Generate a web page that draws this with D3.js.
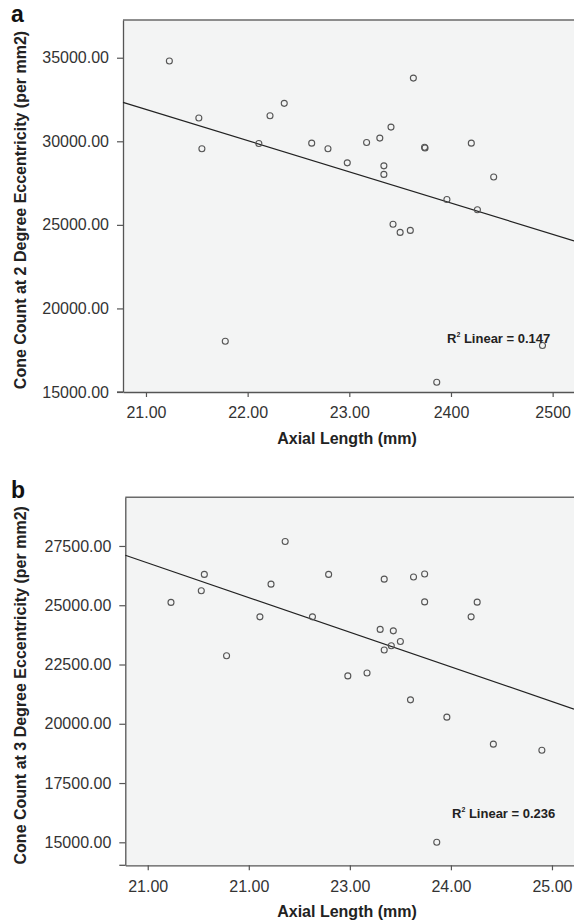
<!DOCTYPE html>
<html>
<head>
<meta charset="utf-8">
<script src="https://d3js.org/d3.v7.min.js"></script>
<style>
  body { margin: 0; background: #fff; }
  svg text { font-family: "Liberation Sans", Arial, sans-serif; }
</style>
</head>
<body>
<svg id="chart" width="574" height="922"></svg>
<script>
// panel a: 2 degree eccentricity
const axialA = [21.23, 21.52, 21.55, 21.78, 22.11, 22.22, 22.36, 22.63, 22.79, 22.98, 23.17, 23.30, 23.34, 23.34,
  23.41, 23.43, 23.50, 23.60, 23.63, 23.74, 23.745, 23.86, 23.96, 24.20, 24.26, 24.42, 24.90];
const coneA = [34800, 31390, 29550, 18040, 29870, 31530, 32270, 29890, 29550, 28710, 29930, 30190, 28530, 28020,
  30850, 25040, 24550, 24670, 33780, 29640, 29600, 15580, 26520, 29890, 25900, 27860, 17780];
const fitA = [[20.774, 32330], [25.21, 24040]];
const xTicksA = ["21.00", "22.00", "23.00", "2400", "2500"];
const yTicksA = [15000, 20000, 25000, 30000, 35000];

// panel b: 3 degree eccentricity
const axialB = [21.23, 21.53, 21.56, 21.78, 22.11, 22.22, 22.36, 22.63, 22.79, 22.98, 23.17, 23.30, 23.34, 23.34,
  23.41, 23.43, 23.50, 23.60, 23.63, 23.74, 23.74, 23.86, 23.96, 24.20, 24.26, 24.42, 24.90];
const coneB = [25120, 25610, 26300, 22870, 24510, 25890, 27690, 24510, 26300, 22020, 22140, 23980, 26100, 23110,
  23290, 23920, 23470, 21010, 26190, 26320, 25140, 15000, 20280, 24510, 25130, 19140, 18880];
const fitB = [[20.778, 27110], [25.218, 20620]];
const xTicksB = ["21.00", "21.00", "23.00", "24.00", "25.00"];
const yTicksB = [15000, 17500, 20000, 22500, 25000, 27500];

const xTickValues = [21, 22, 23, 24, 25];

let svg = d3.select("#chart");

let panels = [
  { label: "a", xs: axialA, ys: coneA, fit: fitA, xLabels: xTicksA, yTicks: yTicksA,
    xDom: [20.774, 25.21], yDom: [15000, 37257], left: 123, top: 20, bottom: 392,
    yTitle: "Cone Count at 2 Degree Eccentricity (per mm2)", r2: "0.147",
    labelY: 22, r2x: 447, r2y: 343, xTitleY: 444 },
  { label: "b", xs: axialB, ys: coneB, fit: fitB, xLabels: xTicksB, yTicks: yTicksB,
    xDom: [20.778, 25.218], yDom: [14030, 29553], left: 125.3, top: 497.3, bottom: 865.3,
    yTitle: "Cone Count at 3 Degree Eccentricity (per mm2)", r2: "0.236",
    labelY: 498, r2x: 452, r2y: 818, xTitleY: 917 }
];

panels.forEach(function(p) {
  let right = 574;
  let x = d3.scaleLinear().domain(p.xDom).range([p.left, right]);
  let y = d3.scaleLinear().domain(p.yDom).range([p.bottom, p.top]);
  let g = svg.append("g");

  // plot background + frame
  g.append("rect")
    .attr("x", p.left).attr("y", p.top)
    .attr("width", right - p.left).attr("height", p.bottom - p.top)
    .attr("fill", "#f3f4f4")
    .attr("stroke", "none");
  g.append("line")
    .attr("x1", p.left).attr("x2", right).attr("y1", p.top).attr("y2", p.top)
    .attr("stroke", "#6a6a6a").attr("stroke-width", 1.5);

  // y axis
  let yAxis = g.append("g")
    .attr("transform", "translate(" + p.left + ",0)")
    .call(d3.axisLeft(y).tickValues(p.yTicks).tickFormat(d3.format(".2f")).tickSize(6).tickPadding(8).tickSizeOuter(0));
  // x axis
  let xAxis = g.append("g")
    .attr("transform", "translate(0," + p.bottom + ")")
    .call(d3.axisBottom(x).tickValues(xTickValues).tickFormat((d, i) => p.xLabels[i]).tickSize(5).tickPadding(10).tickSizeOuter(0));

  [yAxis, xAxis].forEach(function(ax) {
    ax.select(".domain").attr("stroke", "#555").attr("stroke-width", 1.3);
    ax.selectAll(".tick line").attr("stroke", "#555").attr("stroke-width", 1.2);
    ax.selectAll(".tick text")
      .attr("fill", "#333")
      .style("font-size", "16px");
  });
  // bottom line reaches out to the lowest y tick
  g.append("line")
    .attr("x1", p.left - 6).attr("x2", p.left).attr("y1", p.bottom).attr("y2", p.bottom)
    .attr("stroke", "#555").attr("stroke-width", 1.3);

  // fit line
  g.append("line")
    .attr("x1", x(p.fit[0][0])).attr("y1", y(p.fit[0][1]))
    .attr("x2", x(p.fit[1][0])).attr("y2", y(p.fit[1][1]))
    .attr("stroke", "#222").attr("stroke-width", 1.2);

  // points
  g.selectAll("circle.pt")
    .data(d3.zip(p.xs, p.ys))
    .enter()
    .append("circle")
    .attr("class", "pt")
    .attr("cx", d => x(d[0]))
    .attr("cy", d => y(d[1]))
    .attr("r", 3)
    .attr("fill", "none")
    .attr("stroke", "#555")
    .attr("stroke-width", 1.1);

  // R2 annotation
  let r2 = g.append("text")
    .attr("x", p.r2x).attr("y", p.r2y)
    .attr("fill", "#222")
    .style("font-size", "13px")
    .style("font-weight", "bold");
  r2.append("tspan").text("R");
  r2.append("tspan").attr("dy", -6).style("font-size", "7px").text("2");
  r2.append("tspan").attr("dy", 6).text(" Linear = " + p.r2);

  // axis titles
  g.append("text")
    .attr("transform", "translate(26," + ((p.top + p.bottom) / 2 + 4) + ") rotate(-90)")
    .attr("text-anchor", "middle")
    .attr("fill", "#222")
    .style("font-size", "16px")
    .style("font-weight", "bold")
    .text(p.yTitle);
  g.append("text")
    .attr("x", 347).attr("y", p.xTitleY)
    .attr("text-anchor", "middle")
    .attr("fill", "#222")
    .style("font-size", "16px")
    .style("font-weight", "bold")
    .text("Axial Length (mm)");

  // panel letter
  svg.append("text")
    .attr("x", 11).attr("y", p.labelY)
    .attr("fill", "#111")
    .style("font-size", "23px")
    .style("font-weight", "bold")
    .text(p.label);
});
</script>
</body>
</html>
